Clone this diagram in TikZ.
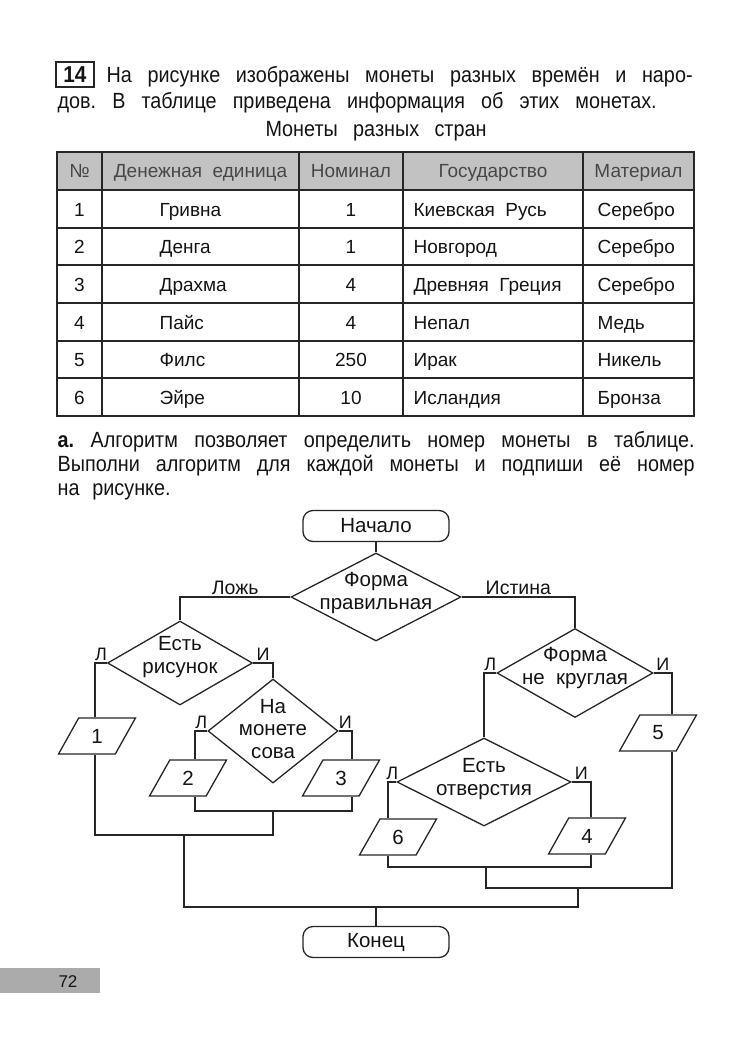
\documentclass[tikz,border=0pt]{standalone}
\usepackage{fontspec}
\setmainfont{Liberation Sans}
\newfontfamily\narrowsans{Liberation Sans}[FakeStretch=0.9]
\usepackage{tikz}
\usetikzlibrary{shapes.geometric}
\frenchspacing
\tikzset{
  terminal/.style={draw, rounded corners=10pt, minimum width=146pt, minimum height=31pt, inner sep=0pt},
  decision/.style={draw, diamond, inner sep=0pt},
  databox/.style={draw, trapezium, trapezium left angle=66, trapezium right angle=114,
    trapezium stretches=true, minimum width=77pt, minimum height=36pt, inner sep=0pt},
  flag/.style={above, inner sep=1.5pt, font=\fontsize{18}{18}\selectfont},
  cell/.style={anchor=base, inner sep=0pt},
  line/.style={anchor=base west, inner sep=0pt},
}

\begin{document}
\begin{tikzpicture}[x=1pt, y=-1pt, line width=1.3pt, draw=black!85, text=black!92,
  font=\fontsize{20.5}{22.5}\selectfont]
\useasboundingbox (0,0) rectangle (734,1043);

\begin{scope}[font=\narrowsans\fontsize{22}{22}\selectfont]
\draw[line width=1.6pt] (56,62) rectangle (94,87);
\node[cell, font=\narrowsans\fontsize{23}{23}\selectfont\bfseries] (num) at (75,82.5) {14};
\node[line] (head1) at (106,83) {\makebox[586pt][s]{На рисунке изображены монеты разных времён и наро-}};
\node[line] (head2) at (57,109) {\makebox[599pt][s]{дов. В таблице приведена информация об этих монетах.}};
\node[cell] (title) at (376,137) {\makebox[221pt][s]{Монеты разных стран}};
\end{scope}

\fill[black!24] (57,152) rectangle (694,190);
\foreach \y in {190,228,265,303,341,378} \draw (57,\y) -- (694,\y);
\foreach \x in {102,299,403,583} \draw (\x,152) -- (\x,416);
\draw[line width=2pt] (57,152) rectangle (694,416);
\begin{scope}[font=\fontsize{19}{19}\selectfont]
\node[cell, text=black!72] (h1) at (79.5,178) {№};
\node[cell, text=black!72] (h2) at (200.5,178) {Денежная~~единица};
\node[cell, text=black!72] (h3) at (351,178) {Номинал};
\node[cell, text=black!72] (h4) at (493,178) {Государство};
\node[cell, text=black!72] (h5) at (638.5,178) {Материал};
\foreach \yc/\n/\unit/\nom/\state/\mat in {
  216/1/Гривна/1/Киевская~~Русь/Серебро,
  253.5/2/Денга/1/Новгород/Серебро,
  291/3/Драхма/4/Древняя~~Греция/Серебро,
  329/4/Пайс/4/Непал/Медь,
  366.5/5/Филс/250/Ирак/Никель,
  404/6/Эйре/10/Исландия/Бронза}
{
  \node[cell] (no\n) at (79.5,\yc) {\n};
  \node[cell, anchor=base west] (unit\n) at (159,\yc) {\unit};
  \node[cell] (nom\n) at (351,\yc) {\nom};
  \node[cell, anchor=base west] (state\n) at (413,\yc) {\state};
  \node[cell, anchor=base west] (mat\n) at (597,\yc) {\mat};
}
\end{scope}

\begin{scope}[font=\narrowsans\fontsize{22}{22}\selectfont]
\node[line] (task1) at (57,447) {\makebox[637pt][s]{\textbf{а.} Алгоритм позволяет определить номер монеты в таблице.}};
\node[line] (task2) at (57,471) {\makebox[637pt][s]{Выполни алгоритм для каждой монеты и подпиши её номер}};
\node[line] (task3) at (57,495) {\makebox[113pt][s]{на рисунке.}};
\end{scope}

\node[terminal] (start) at (376,526) {Начало};
\node[decision, minimum width=170pt, minimum height=88pt,
  label={[name=d0t, align=center, yshift=4pt]center:Форма\\правильная}] (d0) at (376,597) {};
\node[decision, minimum width=145pt, minimum height=84pt,
  label={[name=d1t, align=center, yshift=6pt]center:Есть\\рисунок}] (d1) at (180,663) {};
\node[decision, minimum width=130pt, minimum height=104pt,
  label={[name=d2t, align=center, yshift=2pt]center:На\\монете\\сова}] (d2) at (273,731) {};
\node[decision, minimum width=156pt, minimum height=89pt,
  label={[name=d3t, align=center, yshift=5pt]center:Форма\\не~~круглая}] (d3) at (575,673) {};
\node[decision, minimum width=174pt, minimum height=88pt,
  label={[name=d4t, align=center, yshift=3pt]center:Есть\\отверстия}] (d4) at (484,782) {};
\node[databox] (p1) at (97,736) {1};
\node[databox] (p2) at (188,778) {2};
\node[databox] (p3) at (341,778) {3};
\node[databox] (p6) at (398,837) {6};
\node[databox] (p4) at (587,836) {4};
\node[databox] (p5) at (658,733) {5};
\node[terminal] (stop) at (376,942) {Конец};

\coordinate (j23) at (273,811);
\coordinate (j1) at (184,835);
\coordinate (j64) at (486,867);
\coordinate (j5) at (578,888);
\coordinate (jend) at (376,907);

\draw (start) -- (d0);
\draw (d0.west) -| node[flag, pos=.25, font=\fontsize{19.5}{19.5}\selectfont] (no) {Ложь} (d1.north);
\draw (d0.east) -| node[flag, pos=.25, font=\fontsize{19.5}{19.5}\selectfont] (yes) {Истина} (d3.north);
\draw (d1.west) -| node[flag, pos=.25] (f1) {Л} ([xshift=-2pt]p1.north);
\draw (d1.east) -| node[flag, pos=.25] (t1) {И} (d2.north);
\draw (d2.west) -| node[flag, pos=.25] (f2) {Л} ([xshift=7pt]p2.north);
\draw (d2.east) -| node[flag, pos=.25] (t2) {И} ([xshift=11pt]p3.north);
\draw (d3.west) -| node[flag, pos=.25] (f3) {Л} (d4.north);
\draw (d3.east) -| node[flag, pos=.25] (t3) {И} ([xshift=14pt]p5.north);
\draw (d4.west) -| node[flag, pos=.25] (f4) {Л} ([xshift=-10pt]p6.north);
\draw (d4.east) -| node[flag, pos=.25] (t4) {И} ([xshift=4pt]p4.north);

\draw ([xshift=7pt]p2.south) |- (j23) -| ([xshift=11pt]p3.south);
\draw ([xshift=-2pt]p1.south) |- (j1) -| (j23);
\draw ([xshift=-10pt]p6.south) |- (j64) -| ([xshift=4pt]p4.south);
\draw (j64) |- (j5) -| ([xshift=14pt]p5.south);
\draw (j1) |- (jend) -| (j5);
\draw (jend) -- (stop);

\fill[black!33] (0,968) rectangle (100,993);
\node[cell, font=\fontsize{17}{17}\selectfont] (page) at (68,987) {72};
\end{tikzpicture}
\end{document}
